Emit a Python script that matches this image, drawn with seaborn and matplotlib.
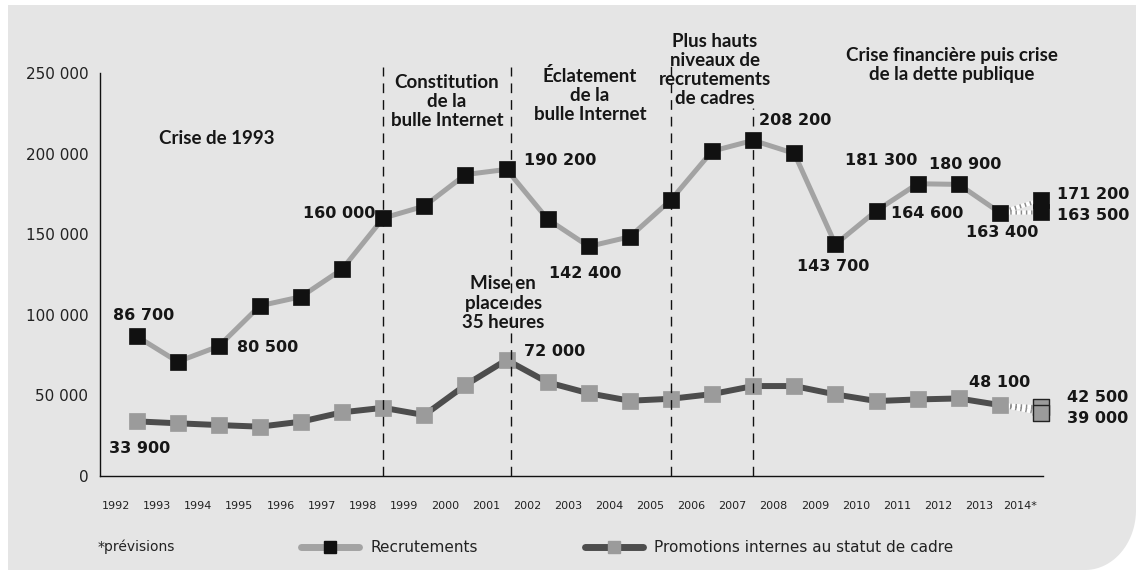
import numpy as np
import matplotlib
matplotlib.use("Agg")
import matplotlib.pyplot as plt
import seaborn as sns
from matplotlib.patches import Polygon
from matplotlib.lines import Line2D
from matplotlib.ticker import FixedLocator, FuncFormatter

# ---- data -------------------------------------------------------------
years = list(range(1992, 2014))
recrutements = [86700, 70900, 80500, 105600, 111200, 128300, 160000, 167400,
                187000, 190200, 159300, 142400, 148400, 171300, 201500, 208200,
                200100, 143700, 164600, 181300, 180900, 163400]
promotions = [33900, 32700, 31600, 30600, 33700, 39500, 42300, 37800,
              56400, 72000, 58100, 51300, 46700, 47900, 50800, 55800,
              55800, 50600, 46500, 47500, 48100, 44000]
forecast_year = 2014
recrutements_prev = [171200, 163500]
promotions_prev = [42500, 39000]
year_labels = [str(y) for y in years] + ["2014*"]
y_ticks = [0, 50000, 100000, 150000, 200000, 250000]

# period separators (year, top of the dashed line)
periods_x = [1998, 2001.1, 2005, 2007]
periods_top = [254000, 254000, 258000, 228000]

# ---- style ------------------------------------------------------------
sns.set_style("white")
plt.rcParams["font.family"] = ["DejaVu Sans"]

W, H = 1136, 570
REC_LINE, REC_MARK = "#a3a3a3", "#111111"
PRO_LINE, PRO_MARK = "#4d4d4d", "#9b9b9b"
PANEL = "#e5e5e5"
TXT = "#161616"
ANN_FONT = ["Lato", "DejaVu Sans"]


def fmt(v):
    return f"{int(v):,}".replace(",", " ")


fig = plt.figure(figsize=(W / 100, H / 100), dpi=100, facecolor="white")

# grey panel with a rounded lower-right corner
t = np.linspace(0, np.pi / 2, 40)
arc = [(1085 + 51 * np.cos(a), 510 + 60 * np.sin(a)) for a in t]
pts_px = [(8, 5), (W, 5)] + arc + [(8, H)]
fig.patches.append(Polygon([(x / W, 1 - y / H) for x, y in pts_px], closed=True,
                           transform=fig.transFigure, facecolor=PANEL,
                           edgecolor="none", zorder=-10))

ax = fig.add_axes([100 / W, 1 - 476 / H, (1043 - 100) / W, (476 - 73) / H])
ax.set_facecolor("none")
ax.set_zorder(1)

# ---- series -----------------------------------------------------------
sns.lineplot(x=years, y=promotions, ax=ax, color=PRO_LINE, lw=4.3, marker="s",
             markersize=11.5, markerfacecolor=PRO_MARK, markeredgecolor=PRO_MARK,
             markeredgewidth=0.5, legend=False, zorder=3)
sns.lineplot(x=years, y=recrutements, ax=ax, color=REC_LINE, lw=3.6, marker="s",
             markersize=11, markerfacecolor=REC_MARK, markeredgecolor=REC_MARK,
             markeredgewidth=0.5, legend=False, zorder=3)

# forecast links 2013 -> 2014
for last, prev in ((recrutements[-1], recrutements_prev), (promotions[-1], promotions_prev)):
    for v in prev:
        ax.plot([years[-1], forecast_year], [last, v], color="white", lw=3,
                zorder=2.5, clip_on=False)
        ax.plot([years[-1], forecast_year], [last, v], color="#8c8c8c", lw=3,
                ls=(0, (0.35, 0.9)), zorder=2.6, clip_on=False)

sns.scatterplot(x=[forecast_year] * 2, y=recrutements_prev, ax=ax, marker="s",
                s=11.5 ** 2, color=REC_MARK, edgecolor=REC_MARK, linewidth=0.5,
                legend=False, zorder=4, clip_on=False)
sns.scatterplot(x=[forecast_year] * 2, y=promotions_prev, ax=ax, marker="s",
                s=11.5 ** 2, color=PRO_MARK, edgecolor="#222222", linewidth=1,
                legend=False, zorder=4, clip_on=False)

# dashed separators
ax.vlines(periods_x, 0, periods_top, colors="#111111", linestyles=(0, (7, 5)),
          lw=1, clip_on=False, zorder=6)

# ---- axes -------------------------------------------------------------
ax.set_xlim(1991.11, 2014.05)
ax.set_ylim(0, 250000)
sns.despine(ax=ax)
for side in ("left", "bottom"):
    ax.spines[side].set_color("#111111")
    ax.spines[side].set_linewidth(1)

ax.yaxis.set_major_locator(FixedLocator(y_ticks))
ax.yaxis.set_major_formatter(FuncFormatter(lambda v, _: fmt(v)))
ax.tick_params(axis="y", length=0, pad=8.5, labelsize=11, labelcolor="#222222")

ax.set_xticks(years + [forecast_year])
ax.set_xticklabels([])
ax.tick_params(axis="x", which="major", direction="in", length=8.6, width=1,
               color="#111111")
ax.set_xticks([y - 0.5 for y in years + [forecast_year]], minor=True)
ax.set_xticklabels(year_labels, minor=True)
ax.tick_params(axis="x", which="minor", length=0, pad=18, labelsize=8,
               labelcolor="#222222")

# ---- value labels -----------------------------------------------------
rec = dict(zip(years, recrutements))
pro = dict(zip(years, promotions))
value_labels = [
    (1992, rec[1992], 7, 21, "center"),
    (1994, rec[1994], 18, -1, "left"),
    (1998, rec[1998], -8, 5, "right"),
    (2001, rec[2001], 17, 9, "left"),
    (2003, rec[2003], -4, -27, "center"),
    (2007, rec[2007], 6, 20, "left"),
    (2009, rec[2009], -2, -22, "center"),
    (2010, rec[2010], 14, -3, "left"),
    (2011, rec[2011], 0, 23, "right"),
    (2012, rec[2012], 6, 20, "center"),
    (2013, rec[2013], 2, -20, "center"),
    (forecast_year, recrutements_prev[0], 16, 6, "left"),
    (forecast_year, recrutements_prev[1], 16, -3, "left"),
    (1992, pro[1992], 3, -27, "center"),
    (2001, pro[2001], 17, 8, "left"),
    (2012, pro[2012], 10, 16, "left"),
    (forecast_year, promotions_prev[0], 26, 9.5, "left"),
    (forecast_year, promotions_prev[1], 26, -5, "left"),
]
for x, v, dx, dy, ha in value_labels:
    ax.annotate(fmt(v), xy=(x, v), xytext=(dx, dy), textcoords="offset pixels",
                ha=ha, va="center", fontsize=11.5, fontweight="bold", color=TXT,
                annotation_clip=False, zorder=7)

# ---- period annotations ----------------------------------------------
notes = [
    (1993.96, 209600, "Crise de 1993"),
    (1999.55, 232500, "Constitution\nde la\nbulle Internet"),
    (2003.03, 236200, "Éclatement\nde la\nbulle Internet"),
    (2006.07, 251700, "Plus hauts\nniveaux de\nrecrutements\nde cadres"),
    (2011.84, 254800, "Crise financière puis crise\nde la dette publique"),
    (2000.92, 107300, "Mise en\nplace des\n35 heures"),
]
for x, y, s in notes:
    ax.text(x, y, s, ha="center", va="center", multialignment="center",
            fontsize=13.5, fontweight="bold", family=ANN_FONT, color=TXT,
            linespacing=1.15, clip_on=False, zorder=7)

# ---- legend -----------------------------------------------------------
handles = [
    Line2D([], [], color=REC_LINE, lw=5, marker="s", ms=8,
           markerfacecolor=REC_MARK, markeredgecolor=REC_MARK),
    Line2D([], [], color=PRO_LINE, lw=5, marker="s", ms=9,
           markerfacecolor=PRO_MARK, markeredgecolor=PRO_MARK),
]
leg = fig.legend(handles, ["Recrutements", "Promotions internes au statut de cadre"],
                 loc="center left", bbox_to_anchor=(301 / W, 1 - 548 / H), ncol=2,
                 frameon=False, fontsize=11, handlelength=3.8, handletextpad=0.72,
                 columnspacing=7.0, borderpad=0, borderaxespad=0)
for txt in leg.get_texts():
    txt.set_color("#222222")

fig.text(98 / W, 1 - 547 / H, "*prévisions", ha="left", va="center",
         fontsize=10, color="#222222")

fig.savefig("out.png", dpi=100, facecolor="white")
